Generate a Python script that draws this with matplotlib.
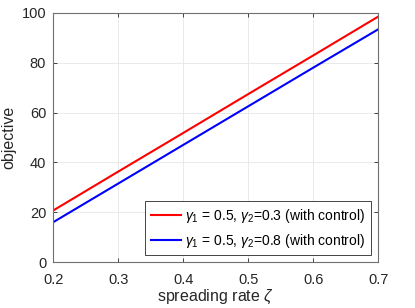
import numpy as np
import matplotlib.pyplot as plt

plt.rcParams['font.family'] = ['Liberation Sans', 'DejaVu Sans']
plt.rcParams['mathtext.fontset'] = 'custom'
plt.rcParams['mathtext.rm'] = 'Liberation Sans'
plt.rcParams['mathtext.it'] = 'Liberation Sans:italic'

zeta = [0.2, 0.3, 0.4, 0.5, 0.6, 0.7]
obj_g03 = [20.7, 36.3, 51.8, 67.4, 82.9, 98.5]
obj_g08 = [16.0, 31.5, 47.0, 62.5, 78.0, 93.4]

fig = plt.figure(figsize=(4.15, 3.08), dpi=100)
ax = fig.add_axes([0.128, 0.149, 0.783, 0.809])

ax.plot(zeta, obj_g03, color='#ff0000', lw=1.5,
        label=r'$\gamma_1$ = 0.5, $\gamma_2$=0.3 (with control)')
ax.plot(zeta, obj_g08, color='#0000ff', lw=1.5,
        label=r'$\gamma_1$ = 0.5, $\gamma_2$=0.8 (with control)')

ax.set_xlim(0.2, 0.7)
ax.set_ylim(0, 100)
ax.set_xticks([0.2, 0.3, 0.4, 0.5, 0.6, 0.7])
ax.set_yticks([0, 20, 40, 60, 80, 100])
ax.grid(True, color='#e6e6e6', lw=0.6)
ax.tick_params(direction='in', length=3, width=0.6, colors='#262626',
               labelsize=10.5, top=True, right=True)
ax.tick_params(axis='x', pad=8)
ax.tick_params(axis='y', pad=5)
for s in ax.spines.values():
    s.set_color('#707070')
    s.set_linewidth(0.8)

ax.set_xlabel(r'spreading rate $\zeta$', fontsize=11.5, color='#262626', labelpad=0)
ax.set_ylabel('objective', fontsize=11.5, color='#262626', labelpad=4)

leg = ax.legend(loc='lower right', fontsize=10, fancybox=False, framealpha=1,
                edgecolor='#262626', handlelength=2.2, handletextpad=0.3,
                borderaxespad=0.5, borderpad=0.4, labelspacing=0.5)
leg.get_frame().set_linewidth(0.6)

fig.savefig('out.png', dpi=100)
